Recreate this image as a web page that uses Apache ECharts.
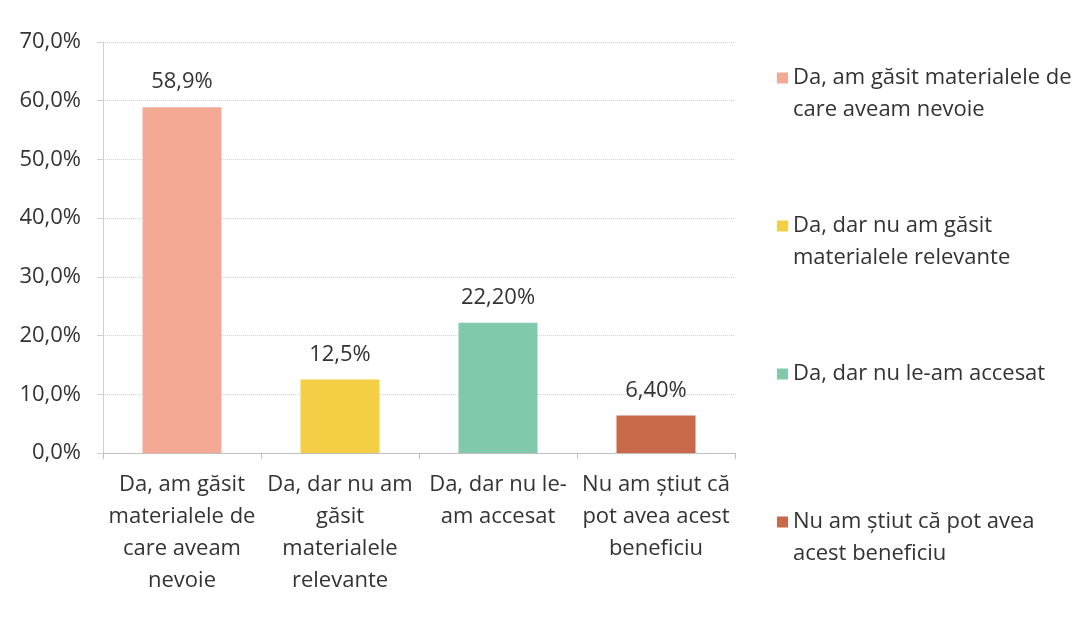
<!DOCTYPE html>
<html>
<head>
<meta charset="utf-8">
<script src="https://cdn.jsdelivr.net/npm/echarts@6/dist/echarts.min.js"></script>
<style>
  html, body { margin: 0; padding: 0; background: #fff; }
  #chart { width: 1091px; height: 644px; }
</style>
</head>
<body>
<div id="chart"></div>
<script>
// categories as printed under the axis
const categories = [
  'Da, am găsit\nmaterialele de\ncare aveam\nnevoie',
  'Da, dar nu am\ngăsit\nmaterialele\nrelevante',
  'Da, dar nu le-\nam accesat',
  'Nu am știut că\npot avea acest\nbeneficiu'
]
// legend entries (same categories, wrapped differently)
const legendNames = [
  'Da, am găsit materialele de\ncare aveam nevoie',
  'Da, dar nu am găsit\nmaterialele relevante',
  'Da, dar nu le-am accesat',
  'Nu am știut că pot avea\nacest beneficiu'
]
const values = [58.9, 12.5, 22.2, 6.4]
const valueLabels = ['58,9%', '12,5%', '22,20%', '6,40%']
const colors = ['#f3a993', '#f4cf45', '#80c9aa', '#c9694b']
const legendTops = [57, 205, 353, 501]

const font = '"Open Sans", "Noto Sans", sans-serif'

const chart = echarts.init(document.getElementById('chart'))

// one series per category so each one gets its own legend entry
const series = values.map((v, i) => ({
  name: legendNames[i],
  type: 'bar',
  stack: 'all',
  barWidth: '50%',
  itemStyle: { color: colors[i] },
  label: {
    show: true,
    position: 'top',
    distance: 14,
    color: '#333',
    fontFamily: font,
    fontSize: 22,
    formatter: () => valueLabels[i]
  },
  data: values.map((x, j) => (j === i ? x : '-'))
}))

// square sitting on the first line of a two-line legend entry
const topSquare = 'path://M0,0H11V11H0Z M0,43L0.01,43'

const legends = legendNames.map((n, i) => {
  const twoLines = n.indexOf('\n') >= 0
  return {
    orient: 'vertical',
    left: 772,
    top: legendTops[i],
    data: [{ name: n, icon: twoLines ? topSquare : 'rect' }],
    itemWidth: 11,
    itemHeight: twoLines ? 43 : 11,
    itemGap: 8,
    selectedMode: false,
    textStyle: {
      color: '#333',
      fontFamily: font,
      fontSize: 22,
      lineHeight: 32
    }
  }
})

chart.setOption({
  backgroundColor: '#fff',
  animation: false,
  legend: legends,
  grid: {
    left: 103,
    right: 356,
    top: 42,
    bottom: 191
  },
  xAxis: {
    type: 'category',
    data: categories,
    axisLine: { lineStyle: { color: '#bfbfbf' } },
    axisTick: { show: true, length: 6, lineStyle: { color: '#bfbfbf' } },
    axisLabel: {
      color: '#333',
      fontFamily: font,
      fontSize: 22,
      lineHeight: 32,
      margin: 16,
      interval: 0
    }
  },
  yAxis: {
    type: 'value',
    min: 0,
    max: 70,
    interval: 10,
    axisLine: { show: true, lineStyle: { color: '#d0d0d0' } },
    axisTick: { show: true, length: 6, lineStyle: { color: '#d0d0d0' } },
    splitLine: { lineStyle: { color: '#d4d4d4', type: 'dotted' } },
    axisLabel: {
      color: '#333',
      fontFamily: font,
      fontSize: 22,
      margin: 22,
      formatter: v => v.toFixed(1).replace('.', ',') + '%'
    }
  },
  series: series
})
</script>
</body>
</html>
